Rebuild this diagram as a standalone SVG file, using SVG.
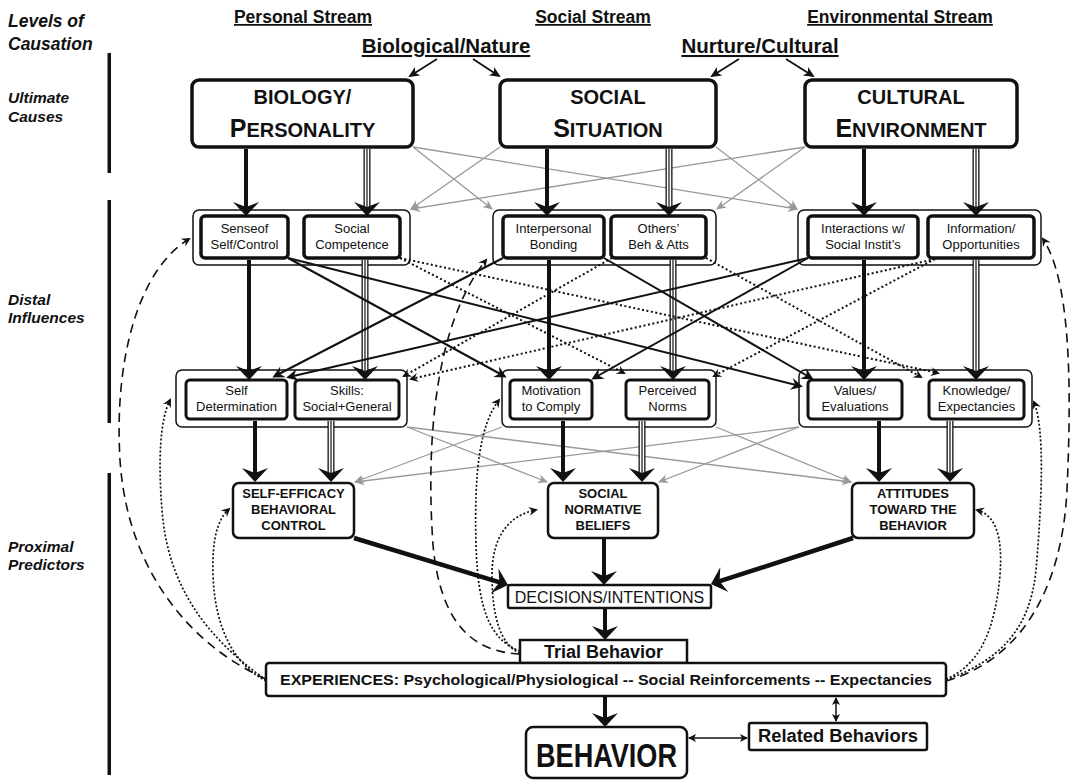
<svg xmlns="http://www.w3.org/2000/svg" width="1075" height="782" viewBox="0 0 1075 782">
<style>
text{font-family:"Liberation Sans",Arial,sans-serif;fill:#111}
.hd{font-weight:bold;font-size:17.5px;text-decoration:underline;text-anchor:middle}
.hd2{font-weight:bold;font-size:20.5px;text-decoration:underline;text-anchor:middle}
.lv{font-weight:bold;font-style:italic;font-size:17.5px}
.lb{font-weight:bold;font-style:italic;font-size:15.5px}
.tb{fill:#fff;stroke:#111;stroke-width:3.5}
.tt{font-weight:bold;font-size:20px;text-anchor:middle}
.grp{fill:none;stroke:#111;stroke-width:1.5}
.ib{fill:#fff;stroke:#111;stroke-width:3.5}
.ib2{fill:#fff;stroke:#111;stroke-width:3}
.it{font-size:13px;text-anchor:middle}
.px{fill:#fff;stroke:#111;stroke-width:2.5}
.pt{font-weight:bold;font-size:13px;text-anchor:middle}
.bar{fill:#111}
.tk{stroke:#111;stroke-width:4;fill:none}
.tk2{stroke:#111;stroke-width:4.5;fill:none}
.t1{stroke:#111;stroke-width:7;fill:none}
.t2{stroke:#fff;stroke-width:4.4;fill:none}
.t3{stroke:#111;stroke-width:1.2;fill:none}
.gy{stroke:#999;stroke-width:1.3;fill:none}
.sl{stroke:#111;stroke-width:2;fill:none}
.dt{stroke:#111;stroke-width:2;stroke-dasharray:2 2.5;fill:none}
.ds{stroke:#111;stroke-width:1.6;stroke-dasharray:9 6;fill:none}
.dc{stroke:#111;stroke-width:1.7;stroke-dasharray:2 2;fill:none}
.th{stroke:#111;stroke-width:1.8;fill:none}
.db{stroke:#111;stroke-width:1.5;fill:none}
</style>
<defs>
<marker id="big" markerUnits="userSpaceOnUse" orient="auto" overflow="visible" markerWidth="1" markerHeight="1"><path d="M6,0 L-8,-13 L-3,0 L-8,13 Z" fill="#111"/></marker>
<marker id="mid" markerUnits="userSpaceOnUse" orient="auto" overflow="visible" markerWidth="1" markerHeight="1"><path d="M3,0 L-9,-6 L-5,0 L-9,6 Z" fill="#111"/></marker>
<marker id="sm" markerUnits="userSpaceOnUse" orient="auto" overflow="visible" markerWidth="1" markerHeight="1"><path d="M2,0 L-7,-4.5 L-4,0 L-7,4.5 Z" fill="#111"/></marker>
<marker id="gr" markerUnits="userSpaceOnUse" orient="auto" overflow="visible" markerWidth="1" markerHeight="1"><path d="M1,0 L-9,-4.5 L-6,0 L-9,4.5 Z" fill="#999"/></marker>
<marker id="ha" markerUnits="userSpaceOnUse" orient="auto" overflow="visible" markerWidth="1" markerHeight="1"><path d="M2,0 L-9,-5 L-6,0 L-9,5 Z" fill="#111"/></marker>
<marker id="dbl" markerUnits="userSpaceOnUse" orient="auto-start-reverse" overflow="visible" markerWidth="1" markerHeight="1"><path d="M1,0 L-7,-4 L-5,0 L-7,4 Z" fill="#111"/></marker>
</defs>
<rect width="1075" height="782" fill="#fff"/>

<g id="labels">
<text class="lv" x="8" y="27">Levels of</text>
<text class="lv" x="8" y="50">Causation</text>
<text class="lb" x="8" y="103">Ultimate</text>
<text class="lb" x="8" y="122">Causes</text>
<text class="lb" x="8" y="305">Distal</text>
<text class="lb" x="8" y="323">Influences</text>
<text class="lb" x="8" y="552">Proximal</text>
<text class="lb" x="8" y="570">Predictors</text>
<rect class="bar" x="107.5" y="53" width="3.5" height="120"/>
<rect class="bar" x="107.5" y="200" width="3.5" height="223"/>
<rect class="bar" x="107.5" y="473" width="3.5" height="302"/>
<text class="hd" x="303" y="23">Personal Stream</text>
<text class="hd" x="593" y="23">Social Stream</text>
<text class="hd" x="900" y="23">Environmental Stream</text>
</g>
<g id="nature"><text class="hd2" x="446" y="53">Biological/Nature</text></g>
<g id="nurture"><text class="hd2" x="760" y="53">Nurture/Cultural</text></g>

<g id="biology"><rect class="tb" x="192" y="80" width="221" height="67" rx="7"/>
<text class="tt" x="302.5" y="104">BIOLOGY/</text>
<text class="tt" x="302.5" y="137"><tspan font-size="25">P</tspan>ERSONALITY</text></g>
<g id="social"><rect class="tb" x="500" y="80" width="216" height="67" rx="7"/>
<text class="tt" x="608" y="104">SOCIAL</text>
<text class="tt" x="608" y="137"><tspan font-size="25">S</tspan>ITUATION</text></g>
<g id="cultural"><rect class="tb" x="805" y="80" width="212" height="67" rx="7"/>
<text class="tt" x="911" y="104">CULTURAL</text>
<text class="tt" x="911" y="137"><tspan font-size="25">E</tspan>NVIRONMENT</text></g>

<g id="distal-personal"><rect class="grp" x="193" y="210" width="217" height="55" rx="6"/>
<rect class="ib" x="201" y="216" width="87" height="42" rx="4"/>
<text class="it" x="244.5" y="233">Senseof</text><text class="it" x="244.5" y="249">Self/Control</text>
<rect class="ib" x="304" y="216" width="96" height="42" rx="4"/>
<text class="it" x="352" y="233">Social</text><text class="it" x="352" y="249">Competence</text></g>
<g id="distal-social"><rect class="grp" x="493" y="210" width="223" height="55" rx="6"/>
<rect class="ib" x="503" y="216" width="101" height="42" rx="4"/>
<text class="it" x="553.5" y="233">Interpersonal</text><text class="it" x="553.5" y="249">Bonding</text>
<rect class="ib" x="611" y="216" width="95" height="42" rx="4"/>
<text class="it" x="658.5" y="233">Others’</text><text class="it" x="658.5" y="249">Beh &amp; Atts</text></g>
<g id="distal-env"><rect class="grp" x="798" y="210" width="243" height="55" rx="6"/>
<rect class="ib" x="808" y="216" width="110" height="42" rx="4"/>
<text class="it" x="863" y="233">Interactions w/</text><text class="it" x="863" y="249">Social Instit’s</text>
<rect class="ib" x="928" y="216" width="106" height="42" rx="4"/>
<text class="it" x="981" y="233">Information/</text><text class="it" x="981" y="249">Opportunities</text></g>

<g id="mid-personal"><rect class="grp" x="176" y="370" width="231" height="57" rx="6"/>
<rect class="ib2" x="186" y="380" width="101" height="39" rx="4"/>
<text class="it" x="236.5" y="395">Self</text><text class="it" x="236.5" y="411">Determination</text>
<rect class="ib2" x="295" y="380" width="104" height="39" rx="4"/>
<text class="it" x="347" y="395">Skills:</text><text class="it" x="347" y="411">Social+General</text></g>
<g id="mid-social"><rect class="grp" x="502" y="370" width="214" height="57" rx="6"/>
<rect class="ib2" x="510" y="380" width="82" height="39" rx="4"/>
<text class="it" x="551" y="395">Motivation</text><text class="it" x="551" y="411">to Comply</text>
<rect class="ib2" x="626" y="380" width="83" height="39" rx="4"/>
<text class="it" x="667.5" y="395">Perceived</text><text class="it" x="667.5" y="411">Norms</text></g>
<g id="mid-env"><rect class="grp" x="799" y="370" width="233" height="57" rx="6"/>
<rect class="ib2" x="808" y="380" width="94" height="39" rx="4"/>
<text class="it" x="855" y="395">Values/</text><text class="it" x="855" y="411">Evaluations</text>
<rect class="ib2" x="929" y="380" width="95" height="39" rx="4"/>
<text class="it" x="976.5" y="395">Knowledge/</text><text class="it" x="976.5" y="411">Expectancies</text></g>

<g id="self-efficacy"><rect class="px" x="233" y="483" width="121" height="55" rx="6"/>
<text class="pt" x="293.5" y="498">SELF-EFFICACY</text><text class="pt" x="293.5" y="514">BEHAVIORAL</text><text class="pt" x="293.5" y="530">CONTROL</text></g>
<g id="social-normative"><rect class="px" x="548" y="483" width="110" height="55" rx="6"/>
<text class="pt" x="603" y="498">SOCIAL</text><text class="pt" x="603" y="514">NORMATIVE</text><text class="pt" x="603" y="530">BELIEFS</text></g>
<g id="attitudes"><rect class="px" x="852" y="483" width="122" height="55" rx="6"/>
<text class="pt" x="913" y="498">ATTITUDES</text><text class="pt" x="913" y="514">TOWARD THE</text><text class="pt" x="913" y="530">BEHAVIOR</text></g>
<g id="decisions"><rect class="px" x="508" y="585" width="203" height="23" rx="2"/>
<text x="609.5" y="602.5" font-size="16" text-anchor="middle">DECISIONS/INTENTIONS</text></g>
<g id="trial"><rect class="px" x="520" y="640" width="167" height="23"/>
<text x="603.5" y="658" font-size="18" font-weight="bold" text-anchor="middle">Trial Behavior</text></g>
<g id="experiences"><rect class="px" x="266" y="663" width="680" height="33" rx="3"/>
<text x="606" y="685" font-size="15" font-weight="bold" text-anchor="middle" textLength="652" lengthAdjust="spacingAndGlyphs">EXPERIENCES: Psychological/Physiological -- Social Reinforcements -- Expectancies</text></g>
<g id="behavior"><rect class="px" x="526" y="727" width="161" height="51" rx="7"/>
<text x="606.5" y="767" font-size="33" font-weight="bold" text-anchor="middle" textLength="141" lengthAdjust="spacingAndGlyphs">BEHAVIOR</text></g>
<g id="related"><rect class="px" x="749" y="723" width="178" height="27" rx="2"/>
<text x="838" y="742" font-size="17.5" font-weight="bold" text-anchor="middle" textLength="160" lengthAdjust="spacingAndGlyphs">Related Behaviors</text></g>

<g id="connectors">
<path class="th" d="M437,59 L410,76" marker-end="url(#ha)"/>
<path class="th" d="M473,59 L499,76" marker-end="url(#ha)"/>
<path class="th" d="M739,59 L712,76" marker-end="url(#ha)"/>
<path class="th" d="M786,59 L813,76" marker-end="url(#ha)"/>

<path class="gy" d="M413,147 L492,209" marker-end="url(#gr)"/>
<path class="gy" d="M413,147 L797,209" marker-end="url(#gr)"/>
<path class="gy" d="M500,147 L411,209" marker-end="url(#gr)"/>
<path class="gy" d="M716,147 L797,209" marker-end="url(#gr)"/>
<path class="gy" d="M805,147 L411,209" marker-end="url(#gr)"/>
<path class="gy" d="M805,147 L717,209" marker-end="url(#gr)"/>
<path class="gy" d="M407,427 L547,482" marker-end="url(#gr)"/>
<path class="gy" d="M407,427 L851,482" marker-end="url(#gr)"/>
<path class="gy" d="M502,427 L355,482" marker-end="url(#gr)"/>
<path class="gy" d="M716,427 L851,482" marker-end="url(#gr)"/>
<path class="gy" d="M799,427 L355,482" marker-end="url(#gr)"/>
<path class="gy" d="M799,427 L659,482" marker-end="url(#gr)"/>

<path class="tk" d="M246,149 V210" marker-end="url(#big)"/>
<path class="tk" d="M547,149 V210" marker-end="url(#big)"/>
<path class="tk" d="M864,149 V210" marker-end="url(#big)"/>
<path class="t1" d="M367,149 V210"/><path class="t2" d="M367,149 V210"/><path class="t3" d="M367,149 V210" marker-end="url(#big)"/>
<path class="t1" d="M669,149 V210"/><path class="t2" d="M669,149 V210"/><path class="t3" d="M669,149 V210" marker-end="url(#big)"/>
<path class="t1" d="M976,149 V210"/><path class="t2" d="M976,149 V210"/><path class="t3" d="M976,149 V210" marker-end="url(#big)"/>

<path class="tk" d="M249,260 V374" marker-end="url(#big)"/>
<path class="tk" d="M549,260 V374" marker-end="url(#big)"/>
<path class="tk" d="M864,260 V374" marker-end="url(#big)"/>
<path class="t1" d="M365,260 V374"/><path class="t2" d="M365,260 V374"/><path class="t3" d="M365,260 V374" marker-end="url(#big)"/>
<path class="t1" d="M673,260 V374"/><path class="t2" d="M673,260 V374"/><path class="t3" d="M673,260 V374" marker-end="url(#big)"/>
<path class="t1" d="M976,260 V374"/><path class="t2" d="M976,260 V374"/><path class="t3" d="M976,260 V374" marker-end="url(#big)"/>

<path class="tk" d="M255,421 V476" marker-end="url(#big)"/>
<path class="tk" d="M563,421 V476" marker-end="url(#big)"/>
<path class="tk" d="M879,421 V476" marker-end="url(#big)"/>
<path class="t1" d="M331,421 V476"/><path class="t2" d="M331,421 V476"/><path class="t3" d="M331,421 V476" marker-end="url(#big)"/>
<path class="t1" d="M642,421 V476"/><path class="t2" d="M642,421 V476"/><path class="t3" d="M642,421 V476" marker-end="url(#big)"/>
<path class="t1" d="M950,421 V476"/><path class="t2" d="M950,421 V476"/><path class="t3" d="M950,421 V476" marker-end="url(#big)"/>

<path class="sl" d="M288,258 L504,376" marker-end="url(#mid)"/>
<path class="sl" d="M288,258 L800,386" marker-end="url(#mid)"/>
<path class="sl" d="M503,258 L275,376" marker-end="url(#mid)"/>
<path class="sl" d="M808,258 L289,377" marker-end="url(#mid)"/>
<path class="sl" d="M604,258 L811,378" marker-end="url(#mid)"/>
<path class="sl" d="M808,258 L594,378" marker-end="url(#mid)"/>

<path class="dt" d="M400,258 L624,373" marker-end="url(#sm)"/>
<path class="dt" d="M400,258 L938,373" marker-end="url(#sm)"/>
<path class="dt" d="M612,258 L404,376" marker-end="url(#sm)"/>
<path class="dt" d="M706,258 L921,377" marker-end="url(#sm)"/>
<path class="dt" d="M935,259 L411,379" marker-end="url(#sm)"/>
<path class="dt" d="M935,259 L714,376" marker-end="url(#sm)"/>

<path class="tk2" d="M354,538 L502.3,583.2" marker-end="url(#big)"/>
<path class="tk2" d="M853,538 L716.7,582.2" marker-end="url(#big)"/>
<path class="tk" d="M604,538 V579" marker-end="url(#big)"/>
<path class="tk" d="M605,608 V634" marker-end="url(#big)"/>
<path class="tk" d="M605,696 V721" marker-end="url(#big)"/>
<path class="db" d="M836,698 V721" marker-start="url(#dbl)" marker-end="url(#dbl)"/>
<path class="db" d="M689,738 H747" marker-start="url(#dbl)" marker-end="url(#dbl)"/>

<path class="ds" d="M266,679 C200,650 128,580 120,460 C114,360 138,270 189,239" marker-end="url(#sm)"/>
<path class="dc" d="M266,680 C210,640 168,590 162,510 C158,460 160,420 170,400" marker-end="url(#sm)"/>
<path class="dc" d="M266,681 C235,665 215,630 213,575 C212,540 217,520 229,509" marker-end="url(#sm)"/>
<path class="ds" d="M520,654 C470,652 440,620 433,545 C427,460 430,330 486,260" marker-end="url(#sm)"/>
<path class="dc" d="M520,651 C490,640 478,610 476,545 C474,470 480,425 499,400" marker-end="url(#sm)"/>
<path class="dc" d="M520,653 C500,645 492,615 492,575 C492,535 510,515 536,510" marker-end="url(#sm)"/>
<path class="dc" d="M946,679 C980,665 995,630 1000,575 C1003,535 995,515 977,510" marker-end="url(#sm)"/>
<path class="dc" d="M946,680 C1000,660 1030,630 1036,570 C1042,500 1045,430 1034,402" marker-end="url(#sm)"/>
<path class="ds" d="M946,681 C1020,660 1062,590 1067,490 C1072,380 1070,280 1043,239" marker-end="url(#sm)"/>
</g>
</svg>
